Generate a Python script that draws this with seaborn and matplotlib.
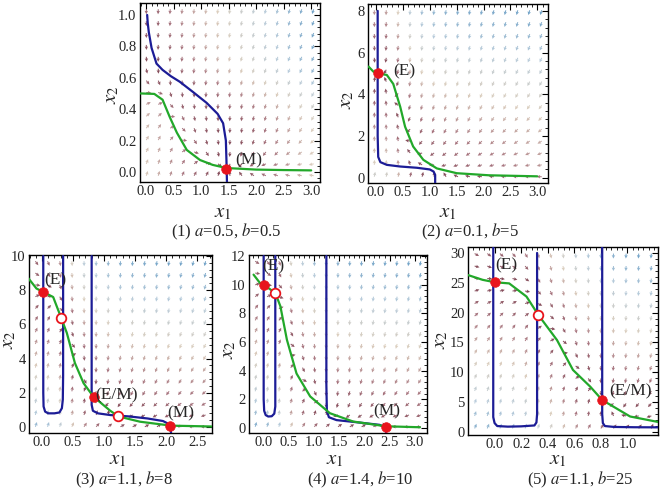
import numpy as np
import pandas as pd
import matplotlib
matplotlib.use("Agg")
import matplotlib.pyplot as plt
import seaborn as sns
from matplotlib.colors import LinearSegmentedColormap
from matplotlib.ticker import AutoMinorLocator, FixedLocator

# ---- values ----
captions = ["(1) $a$=0.5, $b$=0.5", "(2) $a$=0.1, $b$=5", "(3) $a$=1.1, $b$=8",
            "(4) $a$=1.4, $b$=10", "(5) $a$=1.1, $b$=25"]

# panel 1
p1_blue_x1 = [0.02, 0.03, 0.05, 0.1, 0.19, 0.3, 0.45, 0.61, 0.85, 1.1, 1.3, 1.4, 1.45, 1.46, 1.47]
p1_blue_x2 = [1.0, 0.95, 0.89, 0.79, 0.69, 0.65, 0.61, 0.575, 0.51, 0.44, 0.37, 0.31, 0.2, 0.08, -0.07]
p1_green_x1 = [-0.1, 0.15, 0.3, 0.43, 0.56, 0.74, 0.98, 1.21, 1.46, 2.0, 2.5, 3.0]
p1_green_x2 = [0.5, 0.497, 0.46, 0.35, 0.25, 0.14, 0.076, 0.045, 0.025, 0.015, 0.012, 0.01]
p1_stable = ([1.46], [0.02])
p1_unstable = ([], [])
p1_labels = [("(M)", 1.87, 0.075)]
p1_xticks = [0.0, 0.5, 1.0, 1.5, 2.0, 2.5, 3.0]
p1_yticks = [0.0, 0.2, 0.4, 0.6, 0.8, 1.0]

# panel 2
p2_blue_x1 = [0.03, 0.03, 0.04, 0.08, 0.2, 0.45, 0.76, 1.0, 1.07, 1.1, 1.1]
p2_blue_x2 = [8.0, 2.0, 1.0, 0.75, 0.62, 0.54, 0.48, 0.4, 0.3, 0.14, -0.25]
p2_green_x1 = [-0.14, -0.05, 0.03, 0.2, 0.32, 0.45, 0.54, 0.69, 0.88, 1.13, 1.5, 2.1, 3.0]
p2_green_x2 = [5.33, 5.09, 5.0, 4.93, 4.5, 3.4, 2.45, 1.5, 0.86, 0.45, 0.22, 0.12, 0.07]
p2_stable = ([0.03], [5.0])
p2_unstable = ([], [])
p2_labels = [("(E)", 0.52, 5.1)]
p2_xticks = [0.0, 0.5, 1.0, 1.5, 2.0, 2.5, 3.0]
p2_yticks = [0, 2, 4, 6, 8]

# panel 3
p3_loop_x1 = [0.02, 0.02, 0.025, 0.05, 0.1, 0.2, 0.28, 0.32, 0.335, 0.34, 0.34]
p3_loop_x2 = [10.0, 2.0, 1.2, 0.9, 0.8, 0.8, 0.85, 1.1, 1.6, 3.0, 10.0]
p3_blue_x1 = [0.8, 0.8, 0.8, 0.82, 0.9, 1.1, 1.4, 1.7, 1.95, 2.03, 2.07, 2.08]
p3_blue_x2 = [10.0, 3.0, 1.3, 0.95, 0.8, 0.7, 0.62, 0.5, 0.35, 0.2, 0.0, -0.35]
p3_green_x1 = [-0.22, -0.09, 0.02, 0.18, 0.31, 0.4, 0.53, 0.67, 0.83, 1.1, 1.23, 1.58, 2.08, 2.74]
p3_green_x2 = [8.7, 8.1, 7.9, 7.6, 6.37, 5.5, 3.74, 2.56, 1.77, 0.95, 0.62, 0.31, 0.08, 0.03]
p3_stable = ([0.02, 0.83, 2.07], [7.9, 1.77, 0.08])
p3_unstable = ([0.31, 1.23], [6.37, 0.62])
p3_labels = [("(E)", 0.21, 8.6), ("(E/M)", 1.2, 1.85), ("(M)", 2.23, 0.8)]
p3_xticks = [0.0, 0.5, 1.0, 1.5, 2.0, 2.5]
p3_yticks = [0, 2, 4, 6, 8, 10]

# panel 4
p4_loop_x1 = [0.01, 0.01, 0.02, 0.05, 0.1, 0.17, 0.22, 0.24, 0.24]
p4_loop_x2 = [12.0, 2.0, 1.2, 0.9, 0.8, 0.82, 1.0, 1.5, 12.0]
p4_blue_x1 = [1.25, 1.25, 1.26, 1.3, 1.45, 1.9, 2.3, 2.42, 2.43]
p4_blue_x2 = [12.0, 3.0, 1.2, 0.75, 0.55, 0.38, 0.22, 0.05, -0.35]
p4_green_x1 = [-0.19, -0.06, 0.03, 0.24, 0.34, 0.47, 0.66, 0.93, 1.32, 1.78, 2.42, 3.1]
p4_green_x2 = [10.7, 10.1, 9.95, 9.42, 8.5, 6.15, 3.8, 2.2, 1.03, 0.45, 0.12, 0.05]
p4_stable = ([0.02, 2.42], [9.95, 0.1])
p4_unstable = ([0.24], [9.42])
p4_labels = [("(E)", 0.2, 11.3), ("(M)", 2.44, 1.15)]
p4_xticks = [0.0, 0.5, 1.0, 1.5, 2.0, 2.5, 3.0]
p4_yticks = [0, 2, 4, 6, 8, 10, 12]

# panel 5
p5_loop_x1 = [-0.01, -0.01, 0.0, 0.02, 0.1, 0.2, 0.3, 0.315, 0.32, 0.32]
p5_loop_x2 = [31.0, 2.5, 1.5, 1.0, 0.9, 0.95, 1.1, 1.6, 3.0, 30.0]
p5_blue_x1 = [0.81, 0.81, 0.815, 0.83, 0.9, 1.05, 1.25]
p5_blue_x2 = [31.0, 3.0, 1.5, 1.0, 0.85, 0.8, 0.78]
p5_green_x1 = [-0.2, -0.09, 0.0, 0.11, 0.24, 0.33, 0.47, 0.59, 0.72, 0.81, 1.02, 1.25]
p5_green_x2 = [26.3, 25.5, 25.1, 24.9, 22.7, 19.6, 15.4, 10.4, 7.6, 5.36, 2.6, 1.6]
p5_stable = ([0.0, 0.81], [25.1, 5.36])
p5_unstable = ([0.33], [19.6])
p5_labels = [("(E)", 0.09, 28.0), ("(E/M)", 1.02, 6.8)]
p5_xticks = [0.0, 0.2, 0.4, 0.6, 0.8, 1.0]
p5_yticks = [0, 5, 10, 15, 20, 25, 30]

# ---- layout (pixels in a 660x490 canvas) ----
W, H = 660, 490
panels = [
    dict(box=(140, 3, 320, 182), xlim=(-0.11, 3.16), ylim=(-0.064, 1.076),
         xticks=p1_xticks, yticks=p1_yticks, xfmt="{:.1f}", yfmt="{:.1f}", loops=[],
         blue=(p1_blue_x1, p1_blue_x2), green=(p1_green_x1, p1_green_x2),
         stable=p1_stable, unstable=p1_unstable, labels=p1_labels,
         cap=(226, 232), xl=(223, 213), yl=(112, 95)),
    dict(box=(368, 4, 548, 183), xlim=(-0.15, 3.2), ylim=(-0.25, 8.33),
         xticks=p2_xticks, yticks=p2_yticks, xfmt="{:.1f}", yfmt="{:.0f}", loops=[],
         blue=(p2_blue_x1, p2_blue_x2), green=(p2_green_x1, p2_green_x2),
         stable=p2_stable, unstable=p2_unstable, labels=p2_labels,
         cap=(470, 232), xl=(448, 213), yl=(347, 100)),
    dict(box=(29, 255, 212, 433), xlim=(-0.21, 2.74), ylim=(-0.35, 10.06),
         xticks=p3_xticks, yticks=p3_yticks, xfmt="{:.1f}", yfmt="{:.0f}",
         loops=[(p3_loop_x1, p3_loop_x2)],
         blue=(p3_blue_x1, p3_blue_x2), green=(p3_green_x1, p3_green_x2),
         stable=p3_stable, unstable=p3_unstable, labels=p3_labels,
         cap=(124, 480), xl=(118, 460), yl=(9, 340)),
    dict(box=(249, 255, 427, 433), xlim=(-0.28, 3.24), ylim=(-0.35, 12.07),
         xticks=p4_xticks, yticks=p4_yticks, xfmt="{:.1f}", yfmt="{:.0f}",
         loops=[(p4_loop_x1, p4_loop_x2)],
         blue=(p4_blue_x1, p4_blue_x2), green=(p4_green_x1, p4_green_x2),
         stable=p4_stable, unstable=p4_unstable, labels=p4_labels,
         cap=(360, 480), xl=(335, 460), yl=(229, 350)),
    dict(box=(468, 247, 658, 435), xlim=(-0.2, 1.23), ylim=(-0.5, 31.0),
         xticks=p5_xticks, yticks=p5_yticks, xfmt="{:.1f}", yfmt="{:.0f}",
         loops=[(p5_loop_x1, p5_loop_x2)],
         blue=(p5_blue_x1, p5_blue_x2), green=(p5_green_x1, p5_green_x2),
         stable=p5_stable, unstable=p5_unstable, labels=p5_labels,
         cap=(580, 480), xl=(558, 460), yl=(441, 340)),
]

sns.set_theme(style="white")
plt.rcParams["font.family"] = ["Liberation Serif", "DejaVu Serif"]
plt.rcParams["mathtext.fontset"] = "stix"

BLUE = "#1c1c96"
GREEN = "#22a82a"
RED = "#e8141c"
arrow_cmap = LinearSegmentedColormap.from_list(
    "vf", ["#5e1628", "#935460", "#d2c2ae", "#a8c0d2", "#4f8cba"])

fig = plt.figure(figsize=(W / 100, H / 100), dpi=100)


def draw_field(ax, p):
    # arrows from the read nullclines: x1 relaxes to the blue curve, x2 to the green one
    l, t, r, b = p["box"]
    sx = (r - l) / (p["xlim"][1] - p["xlim"][0])
    sy = (b - t) / (p["ylim"][1] - p["ylim"][0])
    dx = (p["xlim"][1] - p["xlim"][0]) * 0.035
    dy = (p["ylim"][1] - p["ylim"][0]) * 0.035
    X, Y = np.meshgrid(np.linspace(p["xlim"][0] + dx, p["xlim"][1] - dx, 15),
                       np.linspace(p["ylim"][0] + dy, p["ylim"][1] - dy, 15))
    bx, by = p["blue"]
    gx, gy = p["green"]
    u = np.interp(Y, by[::-1], bx[::-1]) - X
    v = np.interp(X, gx, gy) - Y
    mag = np.hypot(u, v)
    up, vp = u * sx, 3 * v * sy
    n = np.hypot(up, vp) + 1e-9
    ax.quiver(X, Y, up / n, vp / n, mag / mag.max(), cmap=arrow_cmap, angles="uv",
              units="dots", scale_units="dots", scale=1 / 5.0, width=1.0,
              headwidth=3.5, headlength=3.5, headaxislength=3.0, alpha=0.8, zorder=1)


for i, p in enumerate(panels):
    l, t, r, b = p["box"]
    ax = fig.add_axes([l / W, 1 - b / H, (r - l) / W, (b - t) / H])
    ax.set_facecolor("white")
    draw_field(ax, p)

    for lx, ly in p["loops"]:
        sns.lineplot(x=lx, y=ly, sort=False, estimator=None, color=BLUE, lw=1.6, ax=ax, zorder=3)
    sns.lineplot(x=p["blue"][0], y=p["blue"][1], sort=False, estimator=None, color=BLUE,
                 lw=1.6, ax=ax, zorder=3)
    sns.lineplot(x=p["green"][0], y=p["green"][1], sort=False, estimator=None, color=GREEN,
                 lw=1.6, ax=ax, zorder=4)
    if p["stable"][0]:
        sns.scatterplot(x=p["stable"][0], y=p["stable"][1], s=48, color=RED, edgecolor=RED,
                        linewidth=0.5, ax=ax, zorder=6)
    if p["unstable"][0]:
        sns.scatterplot(x=p["unstable"][0], y=p["unstable"][1], s=48, facecolor="white",
                        edgecolor=RED, linewidth=1.3, ax=ax, zorder=6)
    for txt, tx, ty in p["labels"]:
        ax.text(tx, ty, txt, fontsize=12.5, ha="center", va="center", zorder=7)

    ax.set_xlim(*p["xlim"])
    ax.set_ylim(*p["ylim"])
    ax.xaxis.set_major_locator(FixedLocator(p["xticks"]))
    ax.yaxis.set_major_locator(FixedLocator(p["yticks"]))
    ax.xaxis.set_minor_locator(AutoMinorLocator(5))
    ax.yaxis.set_minor_locator(AutoMinorLocator(5))
    ax.xaxis.set_major_formatter(lambda v, pos, f=p["xfmt"]: f.format(v))
    ax.yaxis.set_major_formatter(lambda v, pos, f=p["yfmt"]: f.format(v))
    ax.tick_params(which="both", direction="in", top=True, right=True, labelsize=10.5,
                   color="black", pad=2.5)
    ax.tick_params(which="major", length=4, width=0.8)
    ax.tick_params(which="minor", length=2, width=0.6)
    for s in ax.spines.values():
        s.set_color("black")
        s.set_linewidth(1.0)
    ax.set_xlabel("")
    ax.set_ylabel("")

    cx, cy = p["cap"]
    fig.text(cx / W, 1 - cy / H, captions[i], fontsize=12, ha="center", va="center")
    fig.text(p["xl"][0] / W, 1 - p["xl"][1] / H, "$x_1$", fontsize=15, ha="center", va="center")
    fig.text(p["yl"][0] / W, 1 - p["yl"][1] / H, "$x_2$", fontsize=15, ha="center", va="center",
             rotation=90)

fig.savefig("out.png", dpi=100)
